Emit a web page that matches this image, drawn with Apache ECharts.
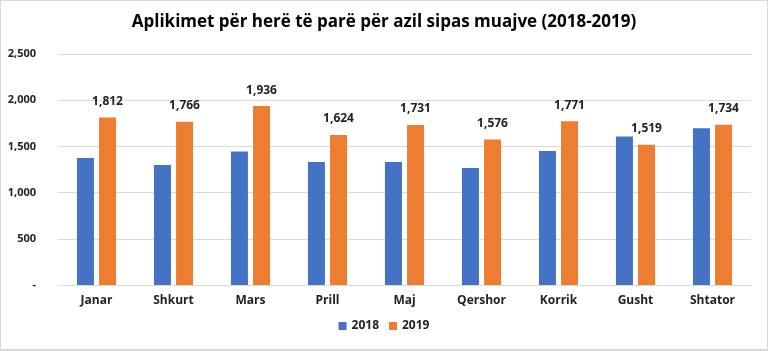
<!DOCTYPE html>
<html>
<head>
<meta charset="utf-8">
<script src="https://cdn.jsdelivr.net/npm/echarts@6/dist/echarts.min.js"></script>
<style>
    html, body { margin: 0; padding: 0; background: #fff; }
    #chart {
        position: absolute;
        left: 0; top: 0;
        width: 766px; height: 348px;
        border: 1px solid #d9d9d9;
        border-bottom-width: 2px;
    }
</style>
</head>
<body>
<div id="chart"></div>
<script>
    // muajt dhe vlerat
    var months = ['Janar', 'Shkurt', 'Mars', 'Prill', 'Maj', 'Qershor', 'Korrik', 'Gusht', 'Shtator'];
    var values2018 = [1375, 1300, 1444, 1332, 1332, 1265, 1451, 1606, 1696];
    var values2019 = [1812, 1766, 1936, 1624, 1731, 1576, 1771, 1519, 1734];
    var yTicks = [0, 500, 1000, 1500, 2000, 2500];

    var font = 'Open Sans';
    function fmt(v) {
        if (v == 0) return '-';
        return v.toLocaleString('en-US');
    }

    var myChart = echarts.init(document.getElementById('chart'));
    var option = {};
    option['title'] = {
        text: 'Aplikimet për herë të parë për azil sipas muajve (2018-2019)',
        left: 'center', top: 8,
        textStyle: {fontFamily: font, fontSize: 17, fontWeight: 'bold', color: '#000'}
    };
    option['legend'] = {
        data: ['2018', '2019'], bottom: 12, left: 'center',
        itemWidth: 8, itemHeight: 8, itemGap: 10, icon: 'rect',
        textStyle: {fontFamily: font, fontSize: 12, fontWeight: 'bold', color: '#222'}
    };
    option['grid'] = {left: 57, right: 16, top: 53, bottom: 64, containLabel: false};
    option['xAxis'] = {
        type: 'category', data: months,
        axisTick: {show: false},
        axisLine: {lineStyle: {color: '#d9d9d9'}},
        axisLabel: {fontFamily: font, fontSize: 12, fontWeight: 'bold', color: '#222', margin: 10}
    };
    option['yAxis'] = {
        type: 'value', min: yTicks[0], max: yTicks[yTicks.length - 1], interval: 500,
        axisLine: {show: false}, axisTick: {show: false},
        splitLine: {lineStyle: {color: '#d9d9d9'}},
        axisLabel: {fontFamily: font, fontSize: 11, fontWeight: 'bold', color: '#222', margin: 22,
            formatter: fmt}
    };
    option['series'] = [
        {name: '2018', type: 'bar', data: values2018, barWidth: 17, barGap: '30%',
            itemStyle: {color: '#4472C4'}},
        {name: '2019', type: 'bar', data: values2019, barWidth: 17,
            itemStyle: {color: '#ED7D31'},
            label: {show: true, position: 'top', distance: 10, formatter: function(p) { return fmt(p.value); },
                fontFamily: font, fontSize: 12, fontWeight: 'bold', color: '#222'}}
    ];
    myChart.setOption(option);
</script>
</body>
</html>
